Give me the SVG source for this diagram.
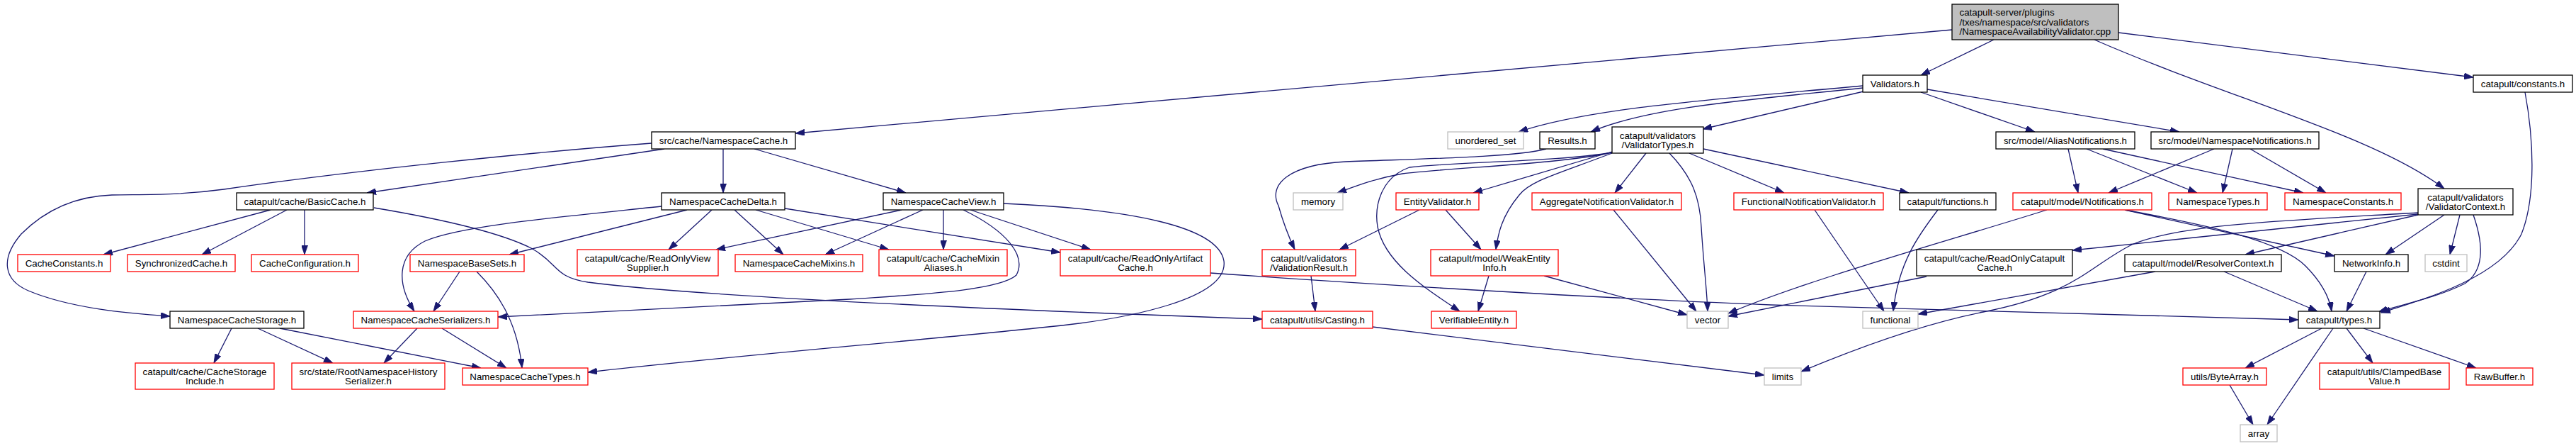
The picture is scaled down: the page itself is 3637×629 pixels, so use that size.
<svg xmlns="http://www.w3.org/2000/svg" width="3637" height="629" viewBox="0 0 3637 629">
<defs>
<marker id="a" markerUnits="userSpaceOnUse" markerWidth="13" markerHeight="9" refX="13" refY="4.5" orient="auto">
<path d="M0,0 L13,4.5 L0,9 z" fill="#191970" stroke="#191970" stroke-width="0.8"/>
</marker>
<style>
rect{fill:#fff;stroke:#000;stroke-width:1.3}
.r rect{stroke:#ff0000}
.g rect{stroke:#bfbfbf}
.root rect{fill:#bfbfbf;stroke:#000}
text{font-family:"Liberation Sans",Arial,Helvetica,sans-serif;font-size:13.33px;text-anchor:middle;fill:#000}
.root text{text-anchor:start}
#edges path{fill:none;stroke:#191970;stroke-width:1.3;marker-end:url(#a)}
</style>
</defs>
<rect x="0" y="0" width="3637" height="629" style="fill:#fff;stroke:none"/>
<g id="edges">
<path d="M2756,42 L1123,188"/>
<path d="M2815,56 L2712,106"/>
<path d="M2991,46 L3492,109"/>
<path d="M2957,56 C3150,140 3350,190 3451,266"/>
<path d="M2630,121 C2450,138 2250,150 2144,186"/>
<path d="M2630,124 C2480,140 2330,150 2246,186"/>
<path d="M2631,129 L2404,182"/>
<path d="M2712,130 L2873,186"/>
<path d="M2721,126 L3077,186"/>
<path d="M938,210 L518,272"/>
<path d="M1021,210 L1021,272"/>
<path d="M1065,210 L1279,272"/>
<path d="M920,202 C760,214 500,240 316,267 C250,276 200,274 158,275 C100,277 60,300 30,330 C0,365 5,395 40,410 C100,435 180,442 240,446"/>
<path d="M382,296 L146,359"/>
<path d="M405,296 L285,359"/>
<path d="M430,296 L430,359"/>
<path d="M528,293 C600,305 700,325 750,350 C790,372 780,390 830,398 C1000,420 1500,440 1782,450"/>
<path d="M934,291 C800,305 650,318 600,340 C560,360 560,400 585,439"/>
<path d="M970,296 L719,359"/>
<path d="M1005,296 L944,352"/>
<path d="M1037,296 L1106,359"/>
<path d="M1067,296 L1255,352"/>
<path d="M1102,293 L1497,356"/>
<path d="M1273,296 L1011,352"/>
<path d="M1303,296 L1165,359"/>
<path d="M1332,296 L1332,352"/>
<path d="M1360,296 C1420,325 1450,360 1435,388 C1410,410 1300,415 1200,422 C1000,432 800,443 703,447"/>
<path d="M1370,296 L1540,352"/>
<path d="M1417,287 C1600,295 1720,320 1728,368 C1735,420 1600,450 1470,462 C1300,480 1000,505 830,525"/>
<path d="M649,383 L612,439"/>
<path d="M673,383 C700,410 730,450 737,519"/>
<path d="M624,463 L715,519"/>
<path d="M589,463 L542,512"/>
<path d="M327,463 L302,512"/>
<path d="M364,463 L470,512"/>
<path d="M395,463 L679,519"/>
<path d="M1709,385 C1850,395 2200,418 2500,430 C2800,440 3100,448 3245,451"/>
<path d="M1851,389 L1857,439"/>
<path d="M1938,461 L2491,529"/>
<path d="M2183,210 C2140,222 2000,224 1900,228 C1820,232 1790,260 1805,290 C1812,315 1820,335 1828,352"/>
<path d="M2276,215 C2200,232 2050,236 1980,245 C1940,252 1915,262 1888,272"/>
<path d="M2276,214 L2080,272"/>
<path d="M2276,215 C2200,228 2060,228 1990,236 C1950,250 1940,290 1945,320 C1955,370 2010,405 2061,439"/>
<path d="M2276,216 C2200,245 2160,255 2145,275 C2120,305 2115,330 2112,352"/>
<path d="M2324,216 L2280,272"/>
<path d="M2357,216 C2390,250 2400,280 2402,320 C2405,370 2410,410 2411,439"/>
<path d="M2385,216 L2519,272"/>
<path d="M2405,210 L2695,272"/>
<path d="M2004,296 L1891,352"/>
<path d="M2041,296 L2091,352"/>
<path d="M2278,296 L2395,439"/>
<path d="M2562,296 L2660,439"/>
<path d="M2736,296 C2710,330 2680,370 2673,439"/>
<path d="M2102,389 L2087,439"/>
<path d="M2180,389 L2382,444"/>
<path d="M2920,210 L2934,272"/>
<path d="M2946,210 L3102,272"/>
<path d="M2969,210 L3252,272"/>
<path d="M3126,210 L2977,272"/>
<path d="M3152,210 L3138,272"/>
<path d="M3177,210 L3284,272"/>
<path d="M2890,296 C2750,340 2550,395 2440,442"/>
<path d="M3000,296 L3296,361"/>
<path d="M3000,296 C3120,318 3220,340 3255,375 C3275,395 3288,415 3292,439"/>
<path d="M3414,302 L2926,353"/>
<path d="M3414,303 L3170,359"/>
<path d="M3451,303 L3368,359"/>
<path d="M3473,303 L3459,359"/>
<path d="M3492,303 C3505,340 3510,380 3480,400 C3440,420 3390,430 3358,440"/>
<path d="M3414,300 C3250,310 3080,315 3010,345 C2950,375 2930,415 2800,440 C2700,460 2600,500 2543,524"/>
<path d="M3565,130 C3578,200 3580,280 3560,330 C3530,390 3430,420 3362,441"/>
<path d="M2720,390 L2440,446"/>
<path d="M3043,383 L2708,443"/>
<path d="M3140,383 L3272,439"/>
<path d="M3341,383 L3313,439"/>
<path d="M3278,463 L3170,519"/>
<path d="M3294,463 L3201,599"/>
<path d="M3313,463 L3350,512"/>
<path d="M3337,463 L3496,519"/>
<path d="M3148,543 L3181,599"/>
</g>
<g id="root" class="root"><rect x="2756" y="6" width="235" height="50"/><text x="2766.5" y="22">catapult-server/plugins</text><text x="2766.5" y="35.5">/txes/namespace/src/validators</text><text x="2766.5" y="49">/NamespaceAvailabilityValidator.cpp</text></g>
<g id="validators"><rect x="2630" y="106" width="91" height="24"/><text x="2675.5" y="122.5">Validators.h</text></g>
<g id="constants"><rect x="3492" y="106" width="140" height="24"/><text x="3562" y="122.5">catapult/constants.h</text></g>
<g id="nscache"><rect x="920" y="186" width="203" height="24"/><text x="1021.5" y="202.5">src/cache/NamespaceCache.h</text></g>
<g id="unordered_set" class="g"><rect x="2044" y="186" width="107" height="24"/><text x="2097.5" y="202.5">unordered_set</text></g>
<g id="results"><rect x="2174" y="186" width="78" height="24"/><text x="2213" y="202.5">Results.h</text></g>
<g id="validatortypes"><rect x="2276" y="179" width="129" height="37"/><text x="2340.5" y="195.5">catapult/validators</text><text x="2340.5" y="208.8">/ValidatorTypes.h</text></g>
<g id="aliasnotif"><rect x="2818" y="186" width="196" height="24"/><text x="2916" y="202.5">src/model/AliasNotifications.h</text></g>
<g id="nsnotif"><rect x="3037" y="186" width="237" height="24"/><text x="3155.5" y="202.5">src/model/NamespaceNotifications.h</text></g>
<g id="basiccache"><rect x="334" y="272" width="193" height="24"/><text x="430.5" y="288.5">catapult/cache/BasicCache.h</text></g>
<g id="delta"><rect x="934" y="272" width="174" height="24"/><text x="1021" y="288.5">NamespaceCacheDelta.h</text></g>
<g id="view"><rect x="1247" y="272" width="170" height="24"/><text x="1332" y="288.5">NamespaceCacheView.h</text></g>
<g id="memory" class="g"><rect x="1826" y="272" width="70" height="24"/><text x="1861" y="288.5">memory</text></g>
<g id="entityvalidator" class="r"><rect x="1971" y="272" width="117" height="24"/><text x="2029.5" y="288.5">EntityValidator.h</text></g>
<g id="aggregatenv" class="r"><rect x="2163" y="272" width="211" height="24"/><text x="2268.5" y="288.5">AggregateNotificationValidator.h</text></g>
<g id="functionalnv" class="r"><rect x="2448" y="272" width="211" height="24"/><text x="2553.5" y="288.5">FunctionalNotificationValidator.h</text></g>
<g id="functions"><rect x="2682" y="272" width="136" height="24"/><text x="2750" y="288.5">catapult/functions.h</text></g>
<g id="notifications" class="r"><rect x="2842" y="272" width="196" height="24"/><text x="2940" y="288.5">catapult/model/Notifications.h</text></g>
<g id="nstypes" class="r"><rect x="3062" y="272" width="139" height="24"/><text x="3131.5" y="288.5">NamespaceTypes.h</text></g>
<g id="nsconstants" class="r"><rect x="3226" y="272" width="164" height="24"/><text x="3308" y="288.5">NamespaceConstants.h</text></g>
<g id="validatorcontext"><rect x="3414" y="266" width="134" height="37"/><text x="3481" y="282.5">catapult/validators</text><text x="3481" y="295.8">/ValidatorContext.h</text></g>
<g id="cacheconstants" class="r"><rect x="25" y="359" width="131" height="24"/><text x="90.5" y="375.5">CacheConstants.h</text></g>
<g id="synccache" class="r"><rect x="180" y="359" width="152" height="24"/><text x="256" y="375.5">SynchronizedCache.h</text></g>
<g id="cacheconfig" class="r"><rect x="355" y="359" width="151" height="24"/><text x="430.5" y="375.5">CacheConfiguration.h</text></g>
<g id="basesets" class="r"><rect x="579" y="359" width="161" height="24"/><text x="659.5" y="375.5">NamespaceBaseSets.h</text></g>
<g id="roviewsupplier" class="r"><rect x="815" y="352" width="199" height="37"/><text x="914.5" y="368.5">catapult/cache/ReadOnlyView</text><text x="914.5" y="381.8">Supplier.h</text></g>
<g id="mixins" class="r"><rect x="1038" y="359" width="180" height="24"/><text x="1128" y="375.5">NamespaceCacheMixins.h</text></g>
<g id="mixinaliases" class="r"><rect x="1241" y="352" width="181" height="37"/><text x="1331.5" y="368.5">catapult/cache/CacheMixin</text><text x="1331.5" y="381.8">Aliases.h</text></g>
<g id="roartifact" class="r"><rect x="1497" y="352" width="212" height="37"/><text x="1603" y="368.5">catapult/cache/ReadOnlyArtifact</text><text x="1603" y="381.8">Cache.h</text></g>
<g id="validationresult" class="r"><rect x="1782" y="352" width="132" height="37"/><text x="1848" y="368.5">catapult/validators</text><text x="1848" y="381.8">/ValidationResult.h</text></g>
<g id="weakentity" class="r"><rect x="2020" y="352" width="180" height="37"/><text x="2110" y="368.5">catapult/model/WeakEntity</text><text x="2110" y="381.8">Info.h</text></g>
<g id="rocatapult"><rect x="2706" y="352" width="220" height="37"/><text x="2816" y="368.5">catapult/cache/ReadOnlyCatapult</text><text x="2816" y="381.8">Cache.h</text></g>
<g id="resolver"><rect x="3000" y="359" width="221" height="24"/><text x="3110.5" y="375.5">catapult/model/ResolverContext.h</text></g>
<g id="networkinfo"><rect x="3296" y="359" width="104" height="24"/><text x="3348" y="375.5">NetworkInfo.h</text></g>
<g id="cstdint" class="g"><rect x="3424" y="359" width="59" height="24"/><text x="3453.5" y="375.5">cstdint</text></g>
<g id="storage"><rect x="240" y="439" width="189" height="24"/><text x="334.5" y="455.5">NamespaceCacheStorage.h</text></g>
<g id="serializers" class="r"><rect x="499" y="439" width="204" height="24"/><text x="601" y="455.5">NamespaceCacheSerializers.h</text></g>
<g id="casting" class="r"><rect x="1782" y="439" width="156" height="24"/><text x="1860" y="455.5">catapult/utils/Casting.h</text></g>
<g id="verifiable" class="r"><rect x="2021" y="439" width="120" height="24"/><text x="2081" y="455.5">VerifiableEntity.h</text></g>
<g id="vector" class="g"><rect x="2382" y="439" width="58" height="24"/><text x="2411" y="455.5">vector</text></g>
<g id="functional" class="g"><rect x="2630" y="439" width="78" height="24"/><text x="2669" y="455.5">functional</text></g>
<g id="types"><rect x="3245" y="439" width="115" height="24"/><text x="3302.5" y="455.5">catapult/types.h</text></g>
<g id="storageinclude" class="r"><rect x="191" y="512" width="196" height="37"/><text x="289" y="528.5">catapult/cache/CacheStorage</text><text x="289" y="541.8">Include.h</text></g>
<g id="rootnshistory" class="r"><rect x="412" y="512" width="216" height="37"/><text x="520" y="528.5">src/state/RootNamespaceHistory</text><text x="520" y="541.8">Serializer.h</text></g>
<g id="cachetypes" class="r"><rect x="653" y="519" width="177" height="24"/><text x="741.5" y="535.5">NamespaceCacheTypes.h</text></g>
<g id="limits" class="g"><rect x="2491" y="519" width="52" height="24"/><text x="2517" y="535.5">limits</text></g>
<g id="bytearray" class="r"><rect x="3082" y="519" width="118" height="24"/><text x="3141" y="535.5">utils/ByteArray.h</text></g>
<g id="clamped" class="r"><rect x="3275" y="512" width="183" height="37"/><text x="3366.5" y="528.5">catapult/utils/ClampedBase</text><text x="3366.5" y="541.8">Value.h</text></g>
<g id="rawbuffer" class="r"><rect x="3482" y="519" width="94" height="24"/><text x="3529" y="535.5">RawBuffer.h</text></g>
<g id="array" class="g"><rect x="3163" y="599" width="52" height="24"/><text x="3189" y="615.5">array</text></g>
</svg>
